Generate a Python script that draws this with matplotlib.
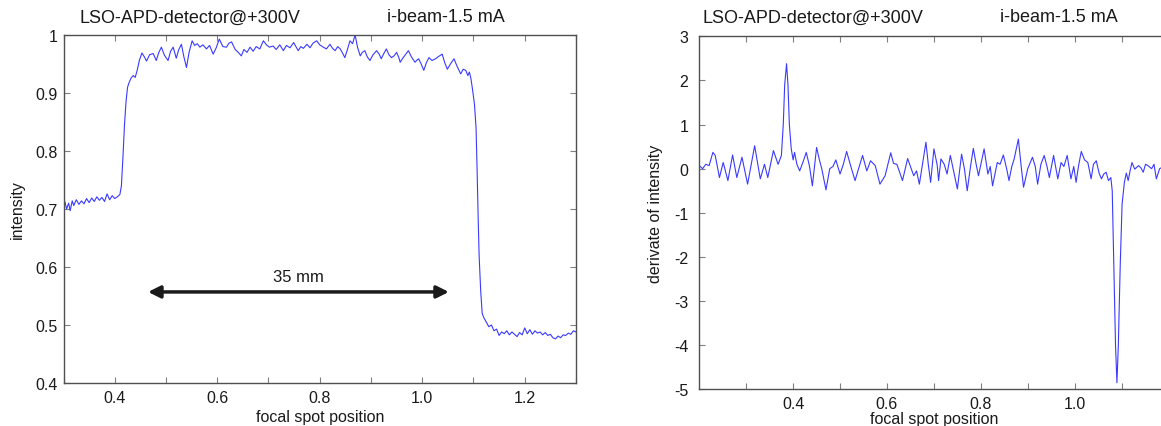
import matplotlib
matplotlib.use('Agg')
import matplotlib.pyplot as plt
from matplotlib.ticker import FixedLocator, FixedFormatter

plt.rcParams['font.family'] = ['Liberation Sans', 'DejaVu Sans']

# ---- data ----
# left panel: intensity vs focal spot position
pos_left = [
    0.300, 0.303, 0.306, 0.310, 0.313, 0.317, 0.320, 0.325, 0.330, 0.335,
    0.340, 0.345, 0.350, 0.355, 0.360, 0.365, 0.370, 0.375, 0.380, 0.385,
    0.390, 0.395, 0.400, 0.405, 0.410, 0.413, 0.416, 0.419, 0.422, 0.425,
    0.428, 0.432, 0.436, 0.440, 0.444, 0.448, 0.453, 0.458, 0.462, 0.468,
    0.475, 0.481, 0.486, 0.491, 0.497, 0.504, 0.509, 0.514, 0.520, 0.525,
    0.530, 0.535, 0.540, 0.545, 0.551, 0.556, 0.561, 0.566, 0.572, 0.579,
    0.585, 0.592, 0.598, 0.604, 0.611, 0.618, 0.623, 0.628, 0.635, 0.641,
    0.647, 0.652, 0.658, 0.664, 0.670, 0.676, 0.683, 0.690, 0.696, 0.702,
    0.709, 0.715, 0.722, 0.729, 0.735, 0.742, 0.749, 0.758, 0.763, 0.768,
    0.775, 0.781, 0.787, 0.794, 0.800, 0.807, 0.813, 0.820, 0.825, 0.830,
    0.835, 0.840, 0.845, 0.849, 0.854, 0.859, 0.864, 0.869, 0.874, 0.879,
    0.883, 0.888, 0.893, 0.898, 0.904, 0.911, 0.916, 0.920, 0.925, 0.930,
    0.935, 0.940, 0.945, 0.950, 0.954, 0.957, 0.962, 0.967, 0.973, 0.979,
    0.986, 0.990, 0.993, 0.998, 1.003, 1.008, 1.013, 1.019, 1.026, 1.032,
    1.039, 1.044, 1.049, 1.055, 1.062, 1.068, 1.075, 1.080, 1.085, 1.089,
    1.092, 1.095, 1.098, 1.102, 1.105, 1.107, 1.109, 1.111, 1.114, 1.117,
    1.120, 1.125, 1.130, 1.135, 1.140, 1.145, 1.150, 1.155, 1.160, 1.165,
    1.170, 1.175, 1.180, 1.185, 1.190, 1.195, 1.200, 1.205, 1.210, 1.215,
    1.220, 1.225, 1.230, 1.235, 1.240, 1.245, 1.250, 1.255, 1.260, 1.265,
    1.270, 1.275, 1.280, 1.285, 1.290, 1.295, 1.300,
]
intensity = [
    0.705, 0.712, 0.700, 0.710, 0.697, 0.714, 0.706, 0.716, 0.708, 0.714,
    0.709, 0.718, 0.711, 0.719, 0.713, 0.721, 0.715, 0.720, 0.713, 0.726,
    0.716, 0.723, 0.718, 0.721, 0.725, 0.740, 0.790, 0.845, 0.885, 0.910,
    0.918, 0.926, 0.930, 0.927, 0.940, 0.956, 0.969, 0.962, 0.955, 0.966,
    0.968, 0.956, 0.970, 0.979, 0.965, 0.956, 0.972, 0.979, 0.960, 0.975,
    0.984, 0.962, 0.944, 0.970, 0.990, 0.982, 0.985, 0.979, 0.983, 0.976,
    0.982, 0.967, 0.978, 0.993, 0.980, 0.979, 0.986, 0.988, 0.975, 0.970,
    0.964, 0.975, 0.970, 0.979, 0.972, 0.980, 0.976, 0.990, 0.983, 0.979,
    0.981, 0.975, 0.983, 0.973, 0.982, 0.978, 0.987, 0.973, 0.980, 0.977,
    0.984, 0.978, 0.986, 0.990, 0.983, 0.979, 0.976, 0.984, 0.977, 0.973,
    0.980, 0.976, 0.968, 0.961, 0.975, 0.990, 0.985, 1.000, 0.978, 0.964,
    0.970, 0.973, 0.962, 0.956, 0.966, 0.973, 0.967, 0.959, 0.968, 0.976,
    0.966, 0.961, 0.964, 0.970, 0.962, 0.953, 0.960, 0.966, 0.973, 0.962,
    0.953, 0.957, 0.959, 0.950, 0.939, 0.952, 0.961, 0.956, 0.959, 0.963,
    0.967, 0.952, 0.941, 0.950, 0.959, 0.946, 0.933, 0.941, 0.939, 0.930,
    0.936, 0.925, 0.907, 0.880, 0.840, 0.770, 0.690, 0.620, 0.560, 0.520,
    0.513, 0.505, 0.497, 0.500, 0.490, 0.493, 0.482, 0.488, 0.485, 0.490,
    0.483, 0.488, 0.484, 0.480, 0.487, 0.483, 0.495, 0.485, 0.492, 0.484,
    0.490, 0.486, 0.488, 0.483, 0.487, 0.482, 0.484, 0.478, 0.476, 0.481,
    0.478, 0.483, 0.482, 0.486, 0.484, 0.490, 0.488,
]

# right panel: derivative of intensity
pos_right = [
    0.200, 0.207, 0.214, 0.221, 0.229, 0.234, 0.243, 0.251, 0.261, 0.271,
    0.280, 0.291, 0.303, 0.318, 0.330, 0.339, 0.346, 0.358, 0.368, 0.375,
    0.379, 0.382, 0.386, 0.389, 0.392, 0.396, 0.400, 0.403, 0.408, 0.414,
    0.421, 0.428, 0.435, 0.441, 0.450, 0.456, 0.461, 0.470, 0.478, 0.485,
    0.491, 0.500, 0.507, 0.514, 0.523, 0.532, 0.540, 0.548, 0.557, 0.565,
    0.575, 0.585, 0.596, 0.608, 0.614, 0.621, 0.627, 0.633, 0.644, 0.650,
    0.657, 0.663, 0.669, 0.677, 0.683, 0.688, 0.693, 0.700, 0.707, 0.710,
    0.715, 0.722, 0.728, 0.735, 0.742, 0.750, 0.759, 0.765, 0.771, 0.778,
    0.784, 0.790, 0.795, 0.801, 0.807, 0.815, 0.820, 0.825, 0.835, 0.841,
    0.848, 0.855, 0.860, 0.866, 0.871, 0.880, 0.886, 0.891, 0.900, 0.910,
    0.916, 0.921, 0.928, 0.935, 0.941, 0.946, 0.955, 0.960, 0.964, 0.971,
    0.977, 0.984, 0.992, 0.998, 1.003, 1.008, 1.014, 1.021, 1.028, 1.035,
    1.040, 1.046, 1.052, 1.057, 1.062, 1.067, 1.072, 1.077, 1.080, 1.084,
    1.087, 1.090, 1.093, 1.097, 1.101, 1.106, 1.110, 1.114, 1.118, 1.122,
    1.128, 1.136, 1.141, 1.146, 1.151, 1.156, 1.164, 1.169, 1.174, 1.181,
    1.186, 1.189,
]
derivative = [
    0.07, 0.00, 0.10, 0.07, 0.37, 0.30, -0.20, 0.14, -0.27, 0.31,
    -0.20, 0.26, -0.35, 0.52, -0.23, 0.10, -0.20, 0.41, 0.10, 0.30,
    1.00, 1.90, 2.38, 1.90, 1.00, 0.45, 0.20, 0.37, 0.10, -0.05,
    0.15, 0.37, 0.05, -0.39, 0.48, 0.20, 0.00, -0.48, 0.00, 0.05,
    0.20, -0.12, 0.10, 0.39, 0.05, -0.27, 0.02, 0.30, -0.05, 0.18,
    0.07, -0.35, -0.16, 0.36, 0.12, 0.10, -0.08, -0.27, 0.23, 0.05,
    -0.16, -0.05, -0.35, 0.20, 0.60, 0.10, -0.31, 0.45, 0.08, -0.27,
    0.22, 0.10, -0.12, 0.30, -0.05, -0.46, 0.33, 0.00, -0.50, 0.05,
    0.46, 0.10, -0.16, 0.15, 0.45, -0.12, 0.05, -0.39, 0.14, 0.10,
    0.31, 0.00, -0.27, 0.05, 0.22, 0.67, 0.05, -0.42, 0.00, 0.26,
    0.05, -0.35, 0.10, 0.30, 0.05, -0.20, 0.30, 0.00, -0.23, 0.14,
    0.05, 0.30, -0.23, 0.05, -0.31, 0.05, 0.39, 0.20, 0.14, -0.23,
    0.10, 0.18, -0.10, -0.23, -0.12, -0.08, -0.27, -0.20, -0.50, -2.50,
    -4.00, -4.85, -4.00, -2.20, -0.80, -0.30, -0.10, -0.27, -0.05, 0.14,
    -0.01, 0.07, 0.02, -0.08, 0.10, 0.07, 0.00, 0.10, -0.23, 0.00,
    0.03, 0.05,
]

left_xticks = [0.4, 0.6, 0.8, 1.0, 1.2]
left_xlabels = ['0.4', '0.6', '0.8', '1.0', '1.2']
left_yticks = [0.4, 0.5, 0.6, 0.7, 0.8, 0.9, 1.0]
left_ylabels = ['0.4', '0.5', '0.6', '0.7', '0.8', '0.9', '1']
right_xticks = [0.4, 0.6, 0.8, 1.0]
right_xlabels = ['0.4', '0.6', '0.8', '1.0']
right_yticks = [-5, -4, -3, -2, -1, 0, 1, 2, 3]
right_ylabels = ['-5', '-4', '-3', '-2', '-1', '0', '1', '2', '3']

title_left = 'LSO-APD-detector@+300V'
title_right = 'i-beam-1.5 mA'

line_color = '#3a3aff'
spine_color = '#505050'
fs = 11.5
fs_title = 13

fig = plt.figure(figsize=(11.61, 4.27), dpi=100)
ax1 = fig.add_axes([0.0547, 0.1007, 0.4414, 0.8150])
ax2 = fig.add_axes([0.6023, 0.0859, 0.4042, 0.8267])


def style_axes(ax):
    for sp in ax.spines.values():
        sp.set_color(spine_color)
        sp.set_linewidth(1.0)
    ax.tick_params(which='both', direction='in', length=4, width=0.8,
                   color='#808080', top=True, right=True, labelsize=fs,
                   labelcolor='#1a1a1a')


# ---- left panel ----
ax1.plot(pos_left, intensity, color=line_color, lw=0.8)
ax1.set_xlim(0.3, 1.3)
ax1.set_ylim(0.4, 1.0)
ax1.xaxis.set_major_locator(FixedLocator(left_xticks))
ax1.xaxis.set_major_formatter(FixedFormatter(left_xlabels))
ax1.xaxis.set_minor_locator(FixedLocator([0.3, 0.5, 0.7, 0.9, 1.1, 1.3]))
ax1.yaxis.set_major_locator(FixedLocator(left_yticks))
ax1.yaxis.set_major_formatter(FixedFormatter(left_ylabels))
style_axes(ax1)
ax1.tick_params(axis='x', pad=5)
ax1.tick_params(axis='y', pad=4)
ax1.set_xlabel('focal spot position', fontsize=fs, color='#1a1a1a', labelpad=3)
ax1.set_ylabel('intensity', fontsize=fs, color='#1a1a1a', labelpad=8)
ax1.text(0.0689, 0.958, title_left, transform=fig.transFigure, fontsize=fs_title,
         color='#1a1a1a', va='center', ha='left')
ax1.text(0.3333, 0.958, title_right, transform=fig.transFigure, fontsize=fs_title,
         color='#1a1a1a', va='center', ha='left')
# 35 mm arrow
ax1.annotate('', xy=(0.465, 0.557), xytext=(1.052, 0.557),
             arrowprops=dict(arrowstyle='<|-|>', color='#1a1a1a', lw=2.5,
                             mutation_scale=18, shrinkA=0, shrinkB=0))
ax1.text(0.758, 0.584, '35 mm', fontsize=12, color='#1a1a1a',
         ha='center', va='center')

# ---- right panel ----
ax2.plot(pos_right, derivative, color=line_color, lw=0.8)
ax2.set_xlim(0.2, 1.2)
ax2.set_ylim(-5, 3)
ax2.xaxis.set_major_locator(FixedLocator(right_xticks))
ax2.xaxis.set_major_formatter(FixedFormatter(right_xlabels))
ax2.xaxis.set_minor_locator(FixedLocator([0.3, 0.5, 0.7, 0.9, 1.1]))
ax2.yaxis.set_major_locator(FixedLocator(right_yticks))
ax2.yaxis.set_major_formatter(FixedFormatter(right_ylabels))
style_axes(ax2)
ax2.tick_params(axis='x', pad=5)
ax2.tick_params(axis='y', pad=8)
ax2.set_xlabel('focal spot position', fontsize=fs, color='#1a1a1a', labelpad=0)
ax2.set_ylabel('derivate of intensity', fontsize=fs, color='#1a1a1a', labelpad=8)
ax2.text(0.6055, 0.958, title_left, transform=fig.transFigure, fontsize=fs_title,
         color='#1a1a1a', va='center', ha='left')
ax2.text(0.861, 0.958, title_right, transform=fig.transFigure, fontsize=fs_title,
         color='#1a1a1a', va='center', ha='left')

fig.savefig('out.png', dpi=100)
